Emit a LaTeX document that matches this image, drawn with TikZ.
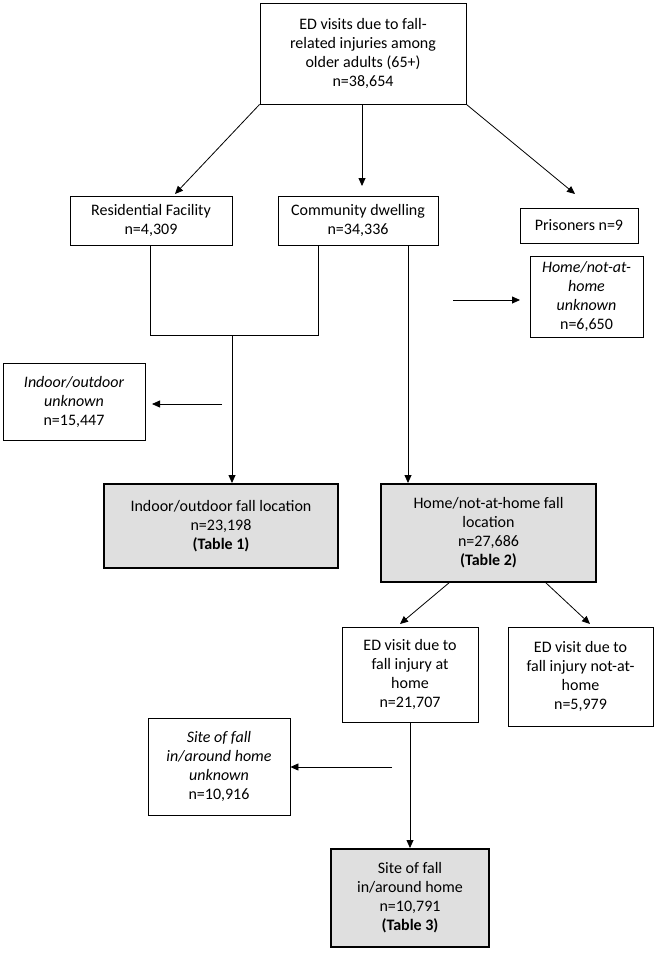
\documentclass[tikz,border=0pt]{standalone}
\usepackage{fontspec}
\setmainfont{Carlito}
\usetikzlibrary{arrows.meta}
\begin{document}
\begin{tikzpicture}[x=1pt,y=-1pt,
 box/.style={draw,line width=0.8pt,align=center,inner sep=0pt,font=\fontsize{16}{19}\selectfont},
 key/.style={box,fill=gray!25,line width=2pt},
 arr/.style={-{Triangle[length=8pt,width=7pt]},line width=0.8pt}]
\useasboundingbox (0,0) rectangle (660,953);
\node[box,minimum width=206,minimum height=101] (top) at (363,53.5) {ED visits due to fall-\\related injuries among\\older adults (65+)\\n=38,654};
\node[box,minimum width=162,minimum height=49] (res) at (151,220.5) {Residential Facility\\n=4,309};
\node[box,minimum width=160,minimum height=49] (com) at (358,220.5) {Community dwelling\\n=34,336};
\node[box,minimum width=118,minimum height=35] (pri) at (579,225.5) {Prisoners n=9};
\node[box,minimum width=142,minimum height=77] (iu) at (74,401.5) {\itshape Indoor/outdoor\\\itshape unknown\\n=15,447};
\node[box,minimum width=113,minimum height=81] (hu) at (586.5,296.5) {\itshape Home/not-at-\\\itshape home\\\itshape unknown\\n=6,650};
\node[key,minimum width=234,minimum height=84] (io) at (221,526) {Indoor/outdoor fall location\\n=23,198\\\textbf{(Table 1)}};
\node[key,minimum width=215,minimum height=98] (hn) at (488.5,533) {Home/not-at-home fall\\location\\n=27,686\\\textbf{(Table 2)}};
\node[box,minimum width=136,minimum height=95] (eh) at (410,674.5) {ED visit due to\\fall injury at\\home\\n=21,707};
\node[box,minimum width=145,minimum height=99] (en) at (580.5,676.5) {ED visit due to\\fall injury not-at-\\home\\n=5,979};
\node[box,minimum width=142,minimum height=97] (su) at (219,766.5) {\itshape Site of fall\\\itshape in/around home\\\itshape unknown\\n=10,916};
\node[key,minimum width=158,minimum height=98] (st) at (410,898) {Site of fall\\in/around home\\n=10,791\\\textbf{(Table 3)}};
\coordinate (t1) at (362,186);
\coordinate (t2) at (175,194);
\coordinate (t3) at (575,194);
\draw[arr] (top.south west) -- (t2);
\draw[arr] (top.south -| t1) -- (t1);
\draw[arr] (top.south east) -- (t3);
\coordinate (j1) at (150,335); \coordinate (j2) at (318,335); \coordinate (jm) at (232,335);
\draw (res.south -| j1) -- (j1) -- (j2) -- (com.south -| j2);
\draw[arr] (jm) -- (io.north -| jm);
\coordinate (a1) at (222,404);
\coordinate (a2) at (152,404);
\draw[arr] (a1) -- (a2);
\coordinate (c1) at (408,245);
\draw[arr] (c1) -- (hn.north -| c1);
\coordinate (b1) at (453,300);
\coordinate (b2) at (520,300);
\draw[arr] (b1) -- (b2);
\coordinate (e1) at (450,582); \coordinate (e2) at (400,624);
\coordinate (f1) at (545,582); \coordinate (f2) at (590,624);
\draw[arr] (e1) -- (e2);
\draw[arr] (f1) -- (f2);
\draw[arr] (eh.south) -- (st.north);
\coordinate (d1) at (392,767);
\draw[arr] (d1) -- (su.east |- d1);
\end{tikzpicture}
\end{document}
